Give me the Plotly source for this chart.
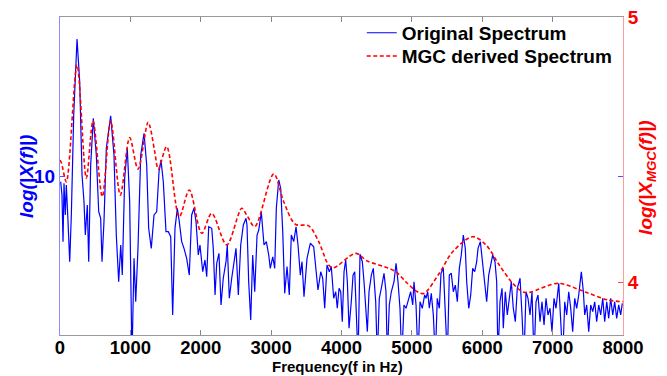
import plotly.graph_objects as go

# ---- data ----
freq_orig = [10, 28, 43, 57, 75, 90, 114, 138, 161, 195, 242, 280, 313, 341, 360, 388, 408, 436, 473, 516,
             550, 578, 597, 625, 658, 720, 767, 800, 834, 863, 885, 919, 956, 990, 1023, 1052, 1076, 1108, 1147, 1194,
             1232, 1260, 1297, 1336, 1374, 1407, 1435, 1468, 1506, 1539, 1573, 1601, 1634, 1667, 1695, 1729, 1762, 1800, 1837, 1871,
             1904, 1933, 1965, 1989, 2028, 2060, 2085, 2113, 2156, 2178, 2203, 2227, 2259, 2288, 2320, 2359, 2377, 2406, 2440, 2473,
             2501, 2534, 2568, 2605, 2643, 2657, 2681, 2710, 2738, 2767, 2800, 2824, 2861, 2899, 2932, 2966, 2988, 3023, 3051, 3074,
             3108, 3136, 3165, 3193, 3226, 3258, 3287, 3321, 3354, 3382, 3415, 3439, 3467, 3510, 3557, 3605, 3638, 3666, 3705, 3733,
             3761, 3794, 3827, 3855, 3889, 3918, 3940, 3965, 3989, 4011, 4036, 4060, 4083, 4107, 4139, 4164, 4188, 4210, 4235, 4263,
             4296, 4320, 4344, 4367, 4391, 4424, 4452, 4486, 4509, 4537, 4566, 4604, 4632, 4651, 4679, 4708, 4746, 4775, 4803, 4831,
             4856, 4888, 4917, 4945, 4983, 5012, 5030, 5059, 5087, 5116, 5148, 5182, 5201, 5225, 5248, 5276, 5305, 5333, 5361, 5390,
             5414, 5447, 5475, 5504, 5532, 5560, 5589, 5617, 5646, 5674, 5702, 5731, 5759, 5779, 5808, 5836, 5864, 5893, 5921, 5940,
             5973, 6006, 6035, 6063, 6092, 6120, 6148, 6181, 6205, 6224, 6252, 6281, 6299, 6328, 6356, 6385, 6413, 6441, 6470, 6498,
             6537, 6565, 6593, 6622, 6650, 6679, 6707, 6735, 6764, 6792, 6821, 6849, 6878, 6906, 6934, 6963, 6991, 7020, 7048, 7087,
             7115, 7143, 7172, 7200, 7229, 7257, 7285, 7314, 7342, 7371, 7408, 7437, 7456, 7484, 7513, 7541, 7570, 7598, 7626, 7655,
             7683, 7712, 7740, 7769, 7797, 7825, 7854, 7882, 7910, 7939, 7967, 7990]
mag_orig = [9.64, 8.81, 5.87, 9.54, 7.55, 9.43, 7.13, 4.61, 7.55, 13.84, 18.62, 15.93, 10.06, 8.38, 6.29, 8.18, 4.61, 10.69, 13.63, 11.32,
            7.75, 7.34, 4.61, 7.13, 11.74, 13.79, 11.32, 6.29, 3.35, 5.66, 3.77, 9.86, 11.74, 8.38, -1.5, 4.82, 2.09, 5.45, 11.32, 12.69,
            10.69, 6.71, 5.45, 7.55, 7.75, 10.27, 11.01, 9.64, 6.50, 6.50, 6.18, 1.26, 6.71, 7.97, 7.13, 5.87, 5.45, 4.82, 3.77, 7.55,
            7.97, 7.13, 5.03, 5.66, 3.98, 4.72, 3.67, 6.81, 6.71, 5.45, 2.52, 4.51, 5.14, 1.89, 3.57, 4.61, 5.66, 2.31, 3.57, 4.61,
            5.45, 2.52, 5.66, 6.92, 7.34, 6.92, 3.35, 0.94, 5.03, 2.72, 6.29, 6.60, 7.72, 5.66, 5.87, 5.03, 4.19, 4.92, 4.19, 7.97,
            9.75, 9.23, 6.50, 2.62, 4.30, 2.52, 6.29, 5.87, 6.81, 5.66, 3.77, 4.61, 2.41, 4.82, 5.77, 5.55, 4.19, 2.83, 3.98, 3.57,
            1.68, 4.40, 3.98, 4.30, 2.31, 2.72, 1.68, 2.94, 2.72, 0.84, 3.98, 4.72, 3.35, 0.42, 2.09, 3.77, 3.98, 1.89, -1.5, 5.08,
            4.61, 3.35, 1.89, 0.21, 2.72, 3.77, 4.19, 2.09, -1.5, 2.31, 2.94, 3.88, 2.72, -1.5, 1.89, 2.72, 3.35, 4.51, 3.35, 1.68,
            -1.5, 1.89, 1.68, 2.09, 2.72, 1.89, 3.35, 1.89, -1.5, 2.09, 1.68, 2.52, 2.31, 2.72, 1.68, 2.62, 1.26, -1.5, 2.31, 1.68,
            3.88, 4.19, 1.89, -1.5, 3.77, 3.88, 2.72, 3.14, 2.09, 4.19, 5.03, 6.29, 5.45, 3.35, 1.68, 2.52, 4.19, 3.98, 4.61, 5.45,
            5.87, 4.61, 3.35, 2.09, 3.77, 4.40, 5.03, 4.61, 3.35, -1.5, 2.09, 2.94, 0.42, 2.72, 1.26, 2.31, 3.35, 1.68, 0.84, 2.94,
            3.57, 1.26, -1.5, 2.72, 2.31, 1.26, 2.72, -1.5, 2.09, 2.52, 0.84, 2.09, 0.63, 2.31, 1.26, 1.68, 0.21, 2.31, 1.68, 3.25,
            1.26, -1.5, 2.09, 1.26, 2.72, 1.68, 0.21, 2.31, 1.68, 2.52, 3.98, 2.72, 1.26, 1.89, 0.21, 1.89, 1.47, 2.09, 0.84, 1.89,
            1.26, 2.31, 0.84, 2.09, 1.05, 2.31, 1.26, 2.09, 1.05, 1.89, 1.26, 1.99]

freq_mgc = [0, 20, 90, 242, 374, 469, 601, 720, 857, 990, 1108, 1250, 1279, 1346, 1397, 1516, 1695, 1837, 2014, 2156,
            2369, 2582, 2653, 2767, 3037, 3179, 3344, 3534, 3676, 3818, 3889, 4202, 4367, 4604, 4770, 4913, 5077, 5172, 5390, 5580,
            5864, 6053, 6242, 6433, 6575, 6674, 7077, 7456, 7787, 8000]
mag_mgc = [4.46, 4.45, 4.378, 4.819, 4.392, 4.608, 4.322, 4.608, 4.328, 4.545, 4.426, 4.603, 4.586, 4.492, 4.426, 4.511, 4.246, 4.347, 4.184, 4.259,
           4.140, 4.278, 4.253, 4.209, 4.408, 4.303, 4.218, 4.212, 4.152, 4.064, 4.054, 4.108, 4.079, 4.058, 4.039, 4.001, 3.963, 3.957, 4.033, 4.114,
           4.171, 4.140, 4.064, 3.995, 3.963, 3.961, 3.995, 3.963, 3.932, 3.926]

x_ticks = [0, 1000, 2000, 3000, 4000, 5000, 6000, 7000, 8000]
left_ticks = [10]
right_ticks = [4, 5]
left_range = [0, 20]
right_range = [3.8, 5.0]

FONT = "Liberation Sans, Arial, Helvetica, sans-serif"
LEG_FONT = dict(family=FONT, size=19, color="black", weight="bold")

fig = go.Figure()
fig.add_trace(go.Scatter(
    x=freq_orig, y=mag_orig, mode="lines", name="Original Spectrum",
    line=dict(color="#0000ff", width=1.2), yaxis="y", legend="legend"))
fig.add_trace(go.Scatter(
    x=freq_mgc, y=mag_mgc, mode="lines", name="MGC derived Spectrum",
    line=dict(color="#ff0000", width=1.6, dash="4px,2.5px", shape="spline", smoothing=0.9),
    yaxis="y2", legend="legend2"))

fig.update_layout(
    width=667, height=376,
    margin=dict(l=60, r=44, t=17, b=41, pad=0),
    paper_bgcolor="white", plot_bgcolor="white",
    showlegend=True,
    legend=dict(x=0.536, y=0.950, xanchor="left", yanchor="middle",
                bgcolor="rgba(0,0,0,0)", borderwidth=0, font=LEG_FONT, itemwidth=30),
    legend2=dict(x=0.536, y=0.877, xanchor="left", yanchor="middle",
                 bgcolor="rgba(0,0,0,0)", borderwidth=0, font=LEG_FONT, itemwidth=30),
    xaxis=dict(range=[0, 8000], tickvals=x_ticks, ticktext=[str(t) for t in x_ticks],
               ticks="inside", ticklen=5, tickcolor="#888888", tickwidth=1,
               showline=True, linecolor="#9a9a9a", linewidth=1, mirror="ticks",
               showgrid=False, zeroline=False, automargin=False,
               ticklabelstandoff=-4,
               tickfont=dict(family=FONT, size=18.5, color="black", weight="bold")),
    yaxis=dict(range=left_range, tickvals=left_ticks, ticktext=[str(t) for t in left_ticks],
               ticks="inside", ticklen=5, tickcolor="#5050ff", tickwidth=1,
               showline=True, linecolor="#8c8cff", linewidth=1, mirror="ticks",
               showgrid=False, zeroline=False, automargin=False,
               tickfont=dict(family=FONT, size=19, color="#0000ff", weight="bold")),
    yaxis2=dict(range=right_range, tickvals=right_ticks, ticktext=[str(t) for t in right_ticks],
                overlaying="y", side="right",
                ticks="inside", ticklen=5, tickcolor="#ff5050", tickwidth=1,
                showline=True, linecolor="#ff9c9c", linewidth=1,
                showgrid=False, zeroline=False, automargin=False,
                tickfont=dict(family=FONT, size=19, color="#ff0000", weight="bold")),
    annotations=[
        dict(text="Frequency(f in Hz)", xref="paper", yref="paper", x=0.493, y=-0.099,
             xanchor="center", yanchor="middle", showarrow=False,
             font=dict(family=FONT, size=15, color="black", weight="bold")),
        dict(text="<i>log(|X(f)|)</i>", xref="paper", yref="paper", x=-0.0604, y=0.5,
             xanchor="center", yanchor="middle", showarrow=False, textangle=-90,
             font=dict(family=FONT, size=19, color="#0000ff", weight="bold")),
        dict(text="<i>log(|X<sub>MGC</sub>(f)|)</i>", xref="paper", yref="paper", x=1.0426, y=0.494,
             xanchor="center", yanchor="middle", showarrow=False, textangle=-90,
             font=dict(family=FONT, size=19, color="#ff0000", weight="bold")),
    ],
)

fig.write_html(
    "out.html",
    config={"displayModeBar": False},
    post_script="document.body.style.margin='0px';document.body.style.overflow='hidden';",
)
